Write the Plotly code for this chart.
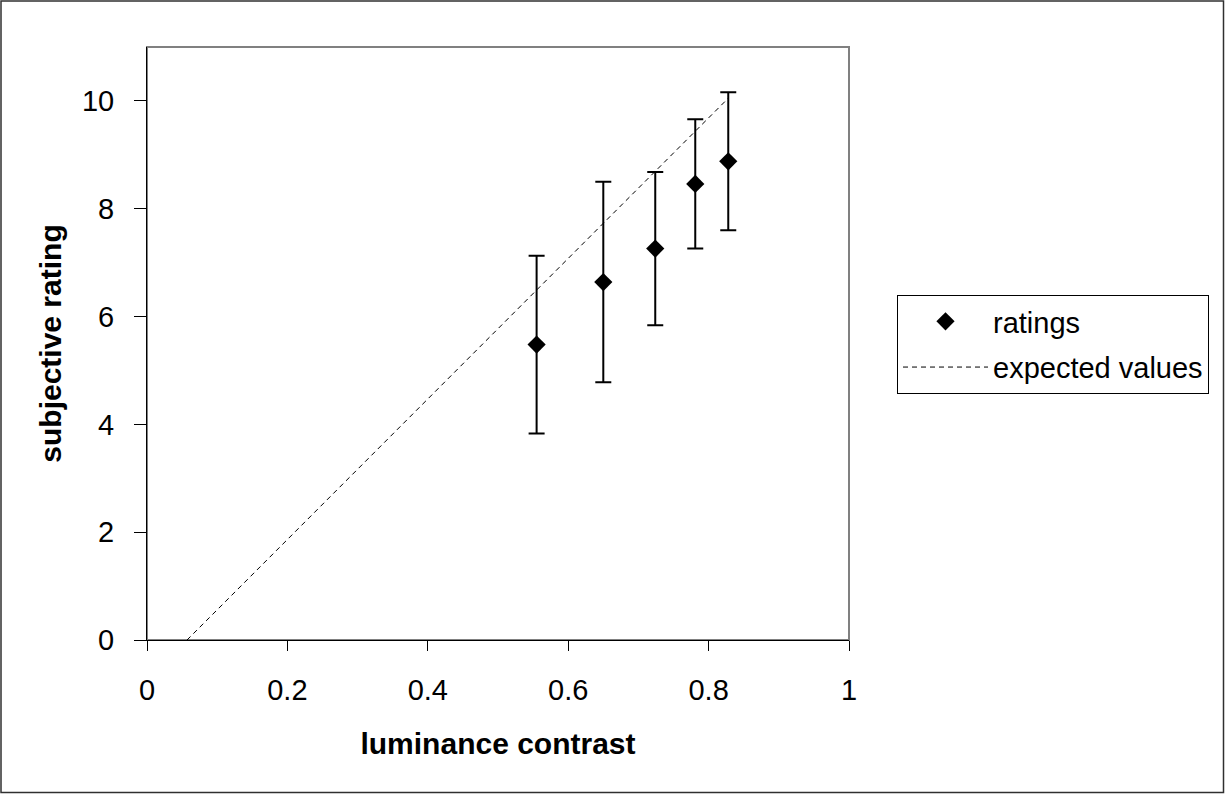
import plotly.graph_objects as go

# data
contrast = [0.555, 0.650, 0.724, 0.781, 0.828]
ratings = [5.48, 6.64, 7.26, 8.46, 8.88]
rating_err = [1.65, 1.86, 1.42, 1.20, 1.28]
expected_x = [0.057, 0.828]
expected_y = [0.0, 10.05]
x_ticks = [0, 0.2, 0.4, 0.6, 0.8, 1]
x_ticklabels = ["0", "0.2", "0.4", "0.6", "0.8", "1"]
y_ticks = [0, 2, 4, 6, 8, 10]

W, H = 1225, 794
L, R, T, B = 147, 849, 47, 640
pw, ph = R - L, B - T

FONT = "Liberation Sans, Arial, sans-serif"

fig = go.Figure()
fig.add_trace(go.Scatter(
    x=contrast, y=ratings, mode="markers", name="ratings", legendgroup="a",
    marker=dict(symbol="diamond", size=14, color="black"),
    error_y=dict(type="data", array=rating_err, visible=True,
                 color="black", thickness=2, width=8),
))
fig.add_trace(go.Scatter(
    x=expected_x, y=expected_y, mode="lines", name="expected values", legendgroup="b",
    line=dict(color="black", width=1, dash="5px,4px"),
))

def hy(py):
    return (B - py) / ph

def vx(px):
    return (px - L) / pw

shapes = [
    dict(type="rect", xref="paper", yref="paper", x0=0, x1=1, y0=0, y1=1,
         line=dict(color="#808080", width=2), layer="below"),
    dict(type="rect", xref="paper", yref="paper",
         x0=vx(1), x1=vx(W - 1.5), y0=hy(H - 1.5), y1=hy(1),
         line=dict(color="#303030", width=1.5)),
]

fig.update_layout(
    width=W, height=H,
    margin=dict(l=L, r=W - R, t=T, b=H - B, autoexpand=False),
    paper_bgcolor="white", plot_bgcolor="white",
    font=dict(family=FONT, size=28, color="black"),
    showlegend=True,
    legend=dict(x=vx(897), y=hy(295), xanchor="left", yanchor="top",
                bordercolor="black", borderwidth=1, bgcolor="white",
                font=dict(family=FONT, size=29), itemwidth=85, tracegroupgap=5),
    shapes=shapes,
    xaxis=dict(range=[0, 1], tickvals=x_ticks, ticktext=x_ticklabels,
               showgrid=False, zeroline=False, showline=True, linecolor="black",
               linewidth=1, ticks="outside", ticklen=10, tickcolor="black",
               tickfont=dict(family=FONT, size=29), ticklabelstandoff=14,
               automargin=False,
               title=dict(text="<b>luminance contrast</b>",
                          font=dict(family=FONT, size=30), standoff=28)),
    yaxis=dict(range=[0, 11], tickvals=y_ticks,
               showgrid=False, zeroline=False, showline=True, linecolor="black",
               linewidth=1, ticks="outside", ticklen=12, tickcolor="black",
               tickfont=dict(family=FONT, size=29), ticklabelstandoff=14,
               automargin=False,
               title=dict(text="<b>subjective rating</b>",
                          font=dict(family=FONT, size=30), standoff=11)),
)

fig.write_html("out.html")
